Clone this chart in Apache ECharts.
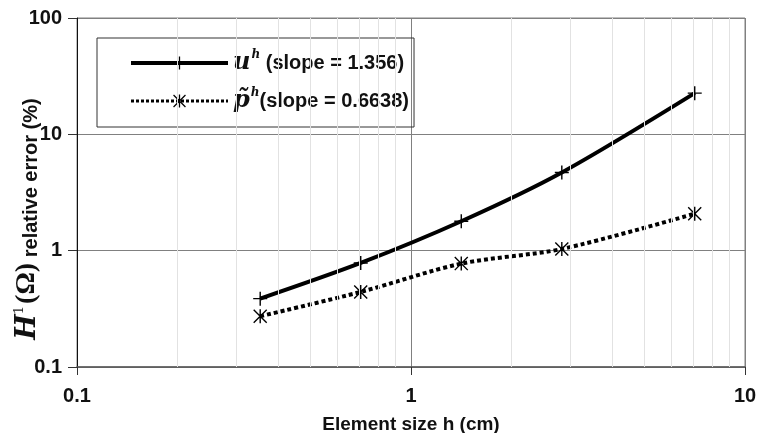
<!DOCTYPE html>
<html>
<head>
<meta charset="utf-8">
<script src="https://cdn.jsdelivr.net/npm/echarts@6/dist/echarts.min.js"></script>
<style>
html,body{margin:0;padding:0;background:#fff;}
#chart{width:757px;height:433px;}
</style>
</head>
<body>
<div id="chart"></div>
<script>
// Data
const hValues = [0.3536, 0.7071, 1.4142, 2.8284, 7.0711];
const uError = [0.387, 0.784, 1.79, 4.70, 22.6];
const pError = [0.273, 0.442, 0.774, 1.034, 2.08];
const slopes = ['1.356', '0.6638'];
const minorGridX = [0.2, 0.3, 0.4, 0.5, 0.6, 0.7, 0.8, 0.9, 2, 3, 4, 5, 6, 7, 8, 9];

const plusPath = 'path://M45,0H55V45H100V55H55V100H45V55H0V45H45Z';
const starPath = 'path://M45,0L55,0L55,100L45,100Z M0,7L7,0L100,93L93,100Z M93,0L100,7L7,100L0,93Z';

const FONT = 'Liberation Sans';
const SERIF = 'DejaVu Serif';

const chart = echarts.init(document.getElementById('chart'), null, {renderer: 'canvas'});

const option = {
  animation: false,
  backgroundColor: '#fff',
  grid: {left: 77, right: 12, top: 18, bottom: 66, show: true, borderColor: '#808080', borderWidth: 1,
         containLabel: false, outerBoundsMode: 'none'},
  legend: {
    orient: 'vertical',
    left: 97, top: 38,
    padding: [11, 5, 12, 32],
    itemGap: 10,
    itemWidth: 97,
    itemHeight: 16,
    borderColor: '#333',
    borderWidth: 1,
    data: [
      {name: 'u', lineStyle: {width: 4, type: 'solid'}},
      {name: 'p', lineStyle: {width: 3, type: [3, 2]}}
    ],
    formatter: function (name) {
      if (name === 'u') return '{m|u}{s|h}{t| (slope = ' + slopes[0] + ')}';
      return '{m|p\u0303}{s|h}{t|(slope = ' + slopes[1] + ')}';
    },
    textStyle: {
      color: '#111',
      lineHeight: 28,
      rich: {
        m: {fontFamily: SERIF, fontStyle: 'italic', fontWeight: 'bold', fontSize: 24, color: '#111', lineHeight: 28},
        s: {fontFamily: SERIF, fontStyle: 'italic', fontWeight: 'bold', fontSize: 12, color: '#111', verticalAlign: 'top', lineHeight: 28, padding: [0, 0, 10, 1]},
        t: {fontFamily: FONT, fontWeight: 'bold', fontSize: 20, color: '#111', lineHeight: 28}
      }
    }
  },
  xAxis: {
    type: 'log', logBase: 10, min: 0.1, max: 10,
    axisLine: {lineStyle: {color: '#555', width: 1.5}},
    axisTick: {show: true, length: 8, lineStyle: {color: '#333'}},
    axisLabel: {fontFamily: FONT, fontWeight: 'bold', fontSize: 20, color: '#111', margin: 19},
    splitLine: {show: true, lineStyle: {color: '#808080', width: 1}},
    name: 'Element size h (cm)',
    nameLocation: 'middle',
    nameGap: 48,
    nameMoveOverlap: false,
    nameTextStyle: {fontFamily: FONT, fontWeight: 'bold', fontSize: 19, color: '#111'}
  },
  yAxis: {
    type: 'log', logBase: 10, min: 0.1, max: 100,
    axisLine: {show: true, lineStyle: {color: '#111', width: 1}},
    axisTick: {show: true, length: 9, lineStyle: {color: '#333'}},
    axisLabel: {fontFamily: FONT, fontWeight: 'bold', fontSize: 20, color: '#111', margin: 15},
    splitLine: {show: true, lineStyle: {color: '#808080', width: 1}},
    name: '{H|H}{one|1}{om|(\u03A9)}{t| relative error (%)}',
    nameLocation: 'middle',
    nameRotate: 90,
    nameGap: 36,
    nameMoveOverlap: false,
    nameTextStyle: {
      padding: [0, 53, 0, 0],
      rich: {
        H: {fontFamily: SERIF, fontStyle: 'italic', fontWeight: 'bold', fontSize: 27, color: '#111', verticalAlign: 'bottom'},
        one: {fontFamily: SERIF, fontSize: 13, color: '#111', verticalAlign: 'top', padding: [0, 2, 0, 0]},
        om: {fontFamily: 'Liberation Serif', fontWeight: 'bold', fontSize: 28, color: '#111', verticalAlign: 'bottom'},
        t: {fontFamily: FONT, fontWeight: 'bold', fontSize: 20, color: '#111', verticalAlign: 'bottom'}
      }
    }
  },
  series: [
    {
      name: 'minor', type: 'line', data: [], z: 1, silent: true,
      markLine: {
        silent: true, symbol: 'none', animation: false,
        label: {show: false},
        lineStyle: {color: '#e2e2e2', type: 'solid', width: 1},
        data: minorGridX.map(v => ({xAxis: v}))
      }
    },
    {
      name: 'u', type: 'line',
      data: hValues.map((h, i) => [h, uError[i]]),
      smooth: 0.3,
      symbol: plusPath, symbolSize: 14,
      itemStyle: {color: '#000'},
      lineStyle: {color: '#000', width: 4},
      z: 3
    },
    {
      name: 'p', type: 'line',
      data: hValues.map((h, i) => [h, pError[i]]),
      smooth: 0.3,
      symbol: starPath, symbolSize: 14,
      itemStyle: {color: '#000'},
      lineStyle: {color: '#000', width: 4, type: [4, 3]},
      z: 3
    }
  ]
};
chart.setOption(option);
</script>
</body>
</html>
